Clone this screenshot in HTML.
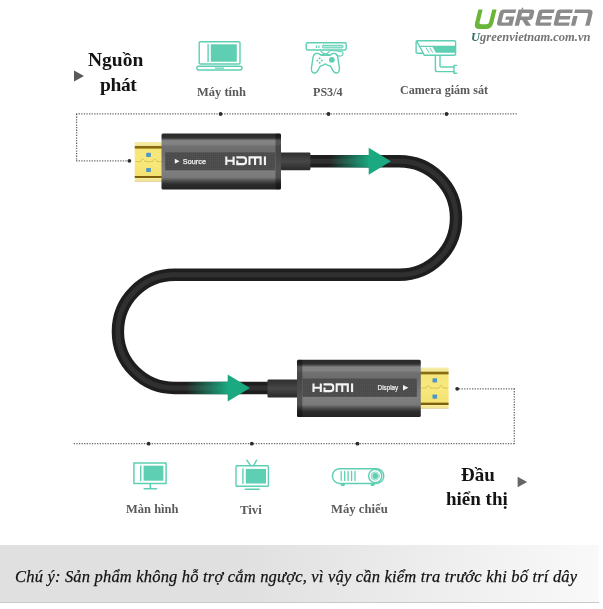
<!DOCTYPE html>
<html><head><meta charset="utf-8">
<style>
html,body{margin:0;padding:0;background:#fff;}
body{width:603px;height:609px;position:relative;overflow:hidden;font-family:"Liberation Serif",serif;}
.t{position:absolute;white-space:nowrap;line-height:1;will-change:transform;}
.lbl{font-weight:bold;color:#5a5a5a;font-size:12.5px;}
.big{font-weight:bold;color:#141414;}
svg{position:absolute;left:0;top:0;filter:blur(0.350px);}
.t{filter:blur(0.300px);}
#band{position:absolute;left:0;top:544.500px;width:598.800px;height:57.900px;background:linear-gradient(90deg,#e0e0e0 0%,#e0e0e0 40%,#f9f9f9 100%);border-bottom:1.300px solid #c9c9c9;}
</style></head><body>
<div id="band"></div>
<svg width="603" height="609" viewBox="0 0 603 609">
<defs>
<linearGradient id="body" x1="0" y1="0" x2="0" y2="1">
<stop offset="0" stop-color="#2a2a2a"/><stop offset="0.07" stop-color="#2f2f2f"/><stop offset="0.1" stop-color="#585858"/><stop offset="0.125" stop-color="#848484"/><stop offset="0.19" stop-color="#828282"/><stop offset="0.225" stop-color="#707070"/><stop offset="0.33" stop-color="#6c6c6c"/>
<stop offset="0.66" stop-color="#7e7e7e"/><stop offset="0.78" stop-color="#7a7a7a"/><stop offset="0.85" stop-color="#4a4a4a"/><stop offset="0.9" stop-color="#2e2e2e"/><stop offset="1" stop-color="#222"/>
</linearGradient>
<linearGradient id="gold" x1="0" y1="0" x2="0" y2="1">
<stop offset="0" stop-color="#f4eba6"/><stop offset="0.09" stop-color="#f3e89a"/><stop offset="0.108" stop-color="#86680e"/><stop offset="0.158" stop-color="#8e7014"/><stop offset="0.176" stop-color="#f6e67a"/>
<stop offset="0.5" stop-color="#f8e97c"/><stop offset="0.848" stop-color="#f4e272"/><stop offset="0.864" stop-color="#7a5c0c"/><stop offset="0.906" stop-color="#80620e"/><stop offset="0.922" stop-color="#f5eba4"/><stop offset="0.985" stop-color="#f1e38e"/><stop offset="1" stop-color="#cdb255"/>
</linearGradient>
<linearGradient id="cab" x1="0" y1="0" x2="0" y2="1">
<stop offset="0" stop-color="#2e2e2e"/><stop offset="0.5" stop-color="#474747"/><stop offset="1" stop-color="#2a2a2a"/>
</linearGradient>
<linearGradient id="ga1" x1="330" y1="0" x2="370" y2="0" gradientUnits="userSpaceOnUse">
<stop offset="0" stop-color="#1aa980" stop-opacity="0"/><stop offset="1" stop-color="#1aa980" stop-opacity="1"/>
</linearGradient>
<linearGradient id="ga2" x1="186" y1="0" x2="228" y2="0" gradientUnits="userSpaceOnUse">
<stop offset="0" stop-color="#1aa980" stop-opacity="0"/><stop offset="1" stop-color="#1aa980" stop-opacity="1"/>
</linearGradient>
<pattern id="mesh" width="2" height="2" patternUnits="userSpaceOnUse"><rect width="2" height="2" fill="#4b4b4b"/><rect width="1" height="1" fill="#545454"/></pattern>
</defs>

<!-- dotted guides -->
<g fill="none" stroke="#6a6a6a" stroke-width="1.3" stroke-dasharray="1.3 1.3">
<path d="M76 113.900 H517.500"/><path d="M76.600 114 V161"/><path d="M76 160.800 H128"/>
<path d="M73.700 443.700 H515"/><path d="M514.300 388.500 V444"/><path d="M459 388.800 H515"/>
</g>
<g fill="#2c2c2c">
<circle cx="129.4" cy="160.8" r="1.9"/><circle cx="220.600" cy="114" r="1.900"/><circle cx="328.5" cy="114" r="1.9"/><circle cx="446.5" cy="114" r="1.9"/>
<circle cx="457.200" cy="388.800" r="1.900"/><circle cx="148.600" cy="443.700" r="1.900"/><circle cx="251.800" cy="443.700" r="1.900"/><circle cx="357.500" cy="443.700" r="1.900"/>
</g>

<!-- cable -->
<path d="M300 161.3 H399.3 A56.75 56.75 0 0 1 399.3 274.8 H174.5 A56.6 56.6 0 0 0 174.5 388 H280" fill="none" stroke="#1e1e1e" stroke-width="12.4"/>
<path d="M300 161.3 H399.3 A56.75 56.75 0 0 1 399.3 274.8 H174.5 A56.6 56.6 0 0 0 174.5 388 H280" fill="none" stroke="#303030" stroke-width="5"/>
<!-- green arrows -->
<rect x="330" y="155.1" width="42" height="12.4" fill="url(#ga1)"/>
<path d="M368.7 147.8 L391 161.3 L368.7 174.8 Z" fill="#1aa980"/>
<rect x="186" y="381.8" width="44" height="12.4" fill="url(#ga2)"/>
<path d="M227.7 374.4 L250 388 L227.7 401.6 Z" fill="#1aa980"/>

<!-- connector 1 (source) -->
<rect x="280" y="152.4" width="30.4" height="17.8" rx="1" fill="url(#cab)"/>
<rect x="134.700" y="142" width="28" height="39.500" fill="url(#gold)"/>
<rect x="146.200" y="152.700" width="4.700" height="4.200" rx="0.700" fill="#4f97c6"/><rect x="146.200" y="167.900" width="4.700" height="4.200" rx="0.700" fill="#4f97c6"/>
<path d="M135.500 161.600 H140.700 C141.700 158.400 144 158.400 145 161.600 H152.600 C153.600 158.400 155.900 158.400 156.900 161.600 H161.300" fill="none" stroke="#c8ae48" stroke-width="0.65"/>
<rect x="161.500" y="133.600" width="119.500" height="56" rx="1.500" fill="url(#body)"/>
<rect x="275.500" y="133.600" width="5.500" height="56" rx="1" fill="#000" opacity="0.350"/>
<rect x="165.2" y="152.3" width="110" height="18" fill="url(#mesh)"/>
<path d="M174.800 158.700 L179.600 161.200 L174.800 163.700 Z" fill="#f2f2f2"/>
<text x="182.8" y="163.7" font-family="Liberation Sans, sans-serif" font-size="7.4" fill="#f2f2f2" stroke="#f2f2f2" stroke-width="0.25" textLength="23.2" lengthAdjust="spacingAndGlyphs">Source</text>
<g id="hdmi" fill="none" stroke="#f4f4f4" stroke-width="2.1">
<path d="M226.3 156.4 V165.1 M233.6 156.4 V165.1 M226.3 160.7 H233.6"/>
<path d="M236.3 157.4 H243.5 Q246 157.4 246 160 V161.6 Q246 164.1 243.5 164.1 H237.3 V160.5"/>
<path d="M249.5 165.1 V157.4 H260.6 V165.1 M255.05 157.4 V165.1"/>
<path d="M264.9 156.4 V165.1"/>
</g>

<!-- connector 2 (display) -->
<rect x="267.5" y="379.6" width="30.4" height="17.8" rx="1" fill="url(#cab)"/>
<rect x="419" y="367.600" width="29.600" height="40.900" fill="url(#gold)"/>
<rect x="432.500" y="378.300" width="4.600" height="4.200" rx="0.700" fill="#4f97c6"/><rect x="432.500" y="394.500" width="4.600" height="4.200" rx="0.700" fill="#4f97c6"/>
<path d="M421 388.100 H426.200 C427.200 384.900 429.400 384.900 430.400 388.100 H439 C440 384.900 442.200 384.900 443.200 388.100 H448" fill="none" stroke="#c8ae48" stroke-width="0.65"/>
<rect x="297" y="359.800" width="123.800" height="57.300" rx="1.500" fill="url(#body)"/>
<rect x="297" y="359.800" width="5.300" height="57.300" rx="1" fill="#000" opacity="0.350"/>
<rect x="302.500" y="378.500" width="114.400" height="18.400" fill="url(#mesh)"/>
<use href="#hdmi" x="87.200" y="227"/>
<text x="377.6" y="389.6" font-family="Liberation Sans, sans-serif" font-size="6.8" fill="#f2f2f2" stroke="#f2f2f2" stroke-width="0.2" textLength="20.6" lengthAdjust="spacingAndGlyphs">Display</text>
<path d="M403 385 L408.4 387.7 L403 390.4 Z" fill="#f2f2f2"/>

<!-- triangles -->
<path d="M74 70.6 L84 76 L74 81.4 Z" fill="#5a5a5a"/>
<path d="M517.6 476.8 L527.2 482 L517.6 487.2 Z" fill="#666"/>

<!-- icons -->
<g fill="none" stroke="#5fcfb3" stroke-width="1.4" stroke-linejoin="round" stroke-linecap="round">
<!-- laptop -->
<rect x="199.2" y="41.8" width="40.8" height="22.2" rx="1.2"/>
<path d="M208.1 44.6 V61.4"/>
<rect x="210.8" y="44.3" width="26" height="17.4" fill="#5fcfb3" stroke="none"/>
<rect x="196.8" y="66.2" width="45.2" height="3.8" rx="1.9"/>
<path d="M215.5 68.1 H223.5"/>
<!-- ps -->
<rect x="306.2" y="42.8" width="40" height="7.2" rx="1.5"/>
<rect x="322.200" y="45.300" width="21" height="2.600" rx="1.300" stroke-width="1" fill="#b9eadf"/>
<path d="M316.4 45.8 V47.4 M318.9 45.8 V47.4" stroke-width="1.2"/>
<path d="M320.700 50.300 Q321.500 54 329.300 54.600 M329.700 50.300 Q329 54 321.600 54.600 M331 50.500 Q338 50.600 342.600 52 Q344 54.600 341 56 Q338.500 56.600 336 54.600" stroke-width="1.200"/>
<path d="M316.5 53.4 q-2.6 0 -3.4 3.4 l-1.6 10.5 q-0.6 5.5 2.8 5.7 q2.6 0.2 4.6 -4.4 q1.2 -3.2 3.4 -3.2 q1.4 0 2 -1 q0.8 -1.1 2 0 q0.8 1 2 1 q2.4 0 3.6 3.2 q2 4.6 4.6 4.4 q3.400 -0.2 2.8 -5.700 l-1.600 -10.500 q-0.800 -3.400 -3.400 -3.400 q-2 0 -3.200 1 q-1 1 -2.400 1 h-6.200 q-1.400 0 -2.400 -1 q-1.200 -1 -3.200 -1 z"/>
<circle cx="331.8" cy="59.8" r="2.9" fill="#5fcfb3" stroke="none"/>
<g fill="#5fcfb3" stroke="none"><circle cx="319.600" cy="58.300" r="1"/><circle cx="319.600" cy="62.700" r="1"/><circle cx="317.400" cy="60.500" r="1"/><circle cx="321.800" cy="60.500" r="1"/></g>
<!-- camera -->
<path d="M416.100 52.200 V42.100 Q416.100 40.800 417.400 40.800 H454.300 Q455.600 40.800 455.600 42.100 V54 Q455.600 55.300 454.300 55.300 H424.400 L416.900 41.500 M416.100 52.200 Q416.100 53.200 417.100 53.200 H422.600"/>
<path d="M420.400 46.400 H455.400" stroke-width="1.200"/>
<path d="M432.600 47 H455 V52.800 H435.900 Z" fill="#5fcfb3" stroke="none"/>
<path d="M426.100 47.900 L428.900 52.300 M429.800 47.900 L432.600 52.300" stroke-width="1"/>
<path d="M435.400 55.600 V69.800 Q435.400 71.600 437.200 71.600 H453.800 M440 55.600 V65.400 Q440 67 441.600 67 H453.800 M456.700 65.400 H454 V73.200 H456.700"/>
<!-- monitor -->
<rect x="133.900" y="462.900" width="32.200" height="20.600" stroke-width="1.500"/>
<path d="M140.700 466 V480.600"/>
<rect x="143.600" y="465.700" width="19.800" height="15" fill="#5fcfb3" stroke="none"/>
<path d="M150.300 483.500 V488.700 M144.200 488.800 H156.600" stroke-width="1.500"/>
<!-- tv -->
<rect x="236" y="465.800" width="32.400" height="20.400" rx="0.800"/>
<path d="M242.900 469 V483.400"/>
<rect x="245.800" y="468.900" width="20.200" height="14.600" fill="#5fcfb3" stroke="none"/>
<path d="M246.800 460.200 L250.600 465.600 M256.600 460.200 L253.600 465.600 M245.200 489.200 H259.200"/>
<!-- projector -->
<rect x="332.400" y="468.700" width="51.400" height="14.800" rx="7.400"/>
<path d="M341.200 471.400 V480.400 M344.700 471.400 V480.400 M348.100 471.400 V480.400 M351.600 471.400 V480.400 M355 471.400 V480.400" stroke-width="1.300"/>
<circle cx="375.200" cy="476" r="6.600"/>
<circle cx="375.200" cy="476" r="4" stroke-width="0.800"/>
<circle cx="375.200" cy="476" r="2.900" fill="#5fcfb3" stroke="none"/>
<path d="M340.800 484 h4 v1.400 q-2 1.200 -4 0 z M370.600 484 h4 v1.400 q-2 1.200 -4 0 z" fill="#5fcfb3" stroke="none"/>
</g>

<!-- UGREEN logo -->
<g transform="translate(473.6 9.599999999999998) matrix(1 0 -0.247 1 4.7671 0)" fill="#6ab437"><path d="M0 0 H4.3 V12.400000000000002 Q4.3 14.600000000000001 6.5 14.600000000000001 H11.7 Q13.899999999999999 14.600000000000001 13.899999999999999 12.400000000000002 V0 H18.2 V13.3 Q18.2 19.3 12.2 19.3 H6 Q0 19.3 0 13.3 Z"/></g>
<g transform="translate(496.3 9.600000000000001) matrix(1 0 -0.247 1 4.001399999999999 0)" fill="#8b8b8b"><path d="M3.5 0 H15.9 V3.4 H5.3 Q4.3 3.4 4.3 4.4 V11.799999999999999 Q4.3 12.799999999999999 5.3 12.799999999999999 H11.600000000000001 V10.2 H7.4 V7 H15.9 V16.2 H3.5 Q0 16.2 0 12.7 V3.5 Q0 0 3.5 0 Z"/></g>
<g transform="translate(514.6 9.600000000000001) matrix(1 0 -0.247 1 4.001399999999999 0)" fill="#8b8b8b"><path fill-rule="evenodd" d="M0 0 H13.100000000000001 Q16.3 0 16.3 3.2 V7.2 Q16.3 10.4 13.100000000000001 10.4 H11.2 L16.6 16.2 H11.3 L6.2 10.4 H4.3 V16.2 H0 Z M4.3 3.4 V7 H11.4 Q12.0 7 12.0 6.4 V4.0 Q12.0 3.4 11.4 3.4 Z"/><path d="M2.2 0 L3.6 -2.4 L5 0 Z"/></g>
<g transform="translate(534.9 9.600000000000001) matrix(1 0 -0.247 1 4.001399999999999 0)" fill="#8b8b8b"><path d="M2.5 0 H15.7 V3.4 H4.3 V6.5 H14.899999999999999 V9.8 H4.3 V12.799999999999999 H15.7 V16.2 H2.5 Q0 16.2 0 13.7 V2.5 Q0 0 2.5 0 Z"/></g>
<g transform="translate(553.2 9.600000000000001) matrix(1 0 -0.247 1 4.001399999999999 0)" fill="#8b8b8b"><path d="M2.5 0 H15.7 V3.4 H4.3 V6.5 H14.899999999999999 V9.8 H4.3 V12.799999999999999 H15.7 V16.2 H2.5 Q0 16.2 0 13.7 V2.5 Q0 0 2.5 0 Z"/></g>
<g transform="translate(570.9 9.600000000000001) matrix(1 0 -0.247 1 4.001399999999999 0)" fill="#8b8b8b"><path d="M0.2 0 H14.100000000000001 Q18.6 0 18.6 4.5 V16.2 H14.3 V4.6 Q14.3 3.4 13.100000000000001 3.4 H0.2 Z M0 6.4 H4.3 V16.2 H0 Z"/></g>
</svg>

<!-- texts -->
<div class="t" style="left:471.4px;top:30.500px;font-size:12.500px;font-style:italic;font-weight:bold;color:#747474;"><span style="color:#2f6f63">U</span>greenvietnam.com.vn</div>
<div class="t big" id="t1" style="left:88px;top:50px;font-size:19.500px;">Nguồn</div>
<div class="t big" id="t2" style="left:99.800px;top:74.800px;font-size:19.500px;letter-spacing:-0.400px;">phát</div>
<div class="t lbl" id="l1" style="left:197px;top:86px;">Máy tính</div>
<div class="t lbl" id="l2" style="left:313px;top:86.400px;font-size:12.100px;">PS3/4</div>
<div class="t lbl" id="l3" style="left:400px;top:84.300px;font-size:12.100px;">Camera giám sát</div>
<div class="t lbl" id="l4" style="left:125.700px;top:503px;">Màn hình</div>
<div class="t lbl" id="l5" style="left:240.400px;top:504px;font-size:12.800px;">Tivi</div>
<div class="t lbl" id="l6" style="left:331px;top:503px;font-size:12.700px;">Máy chiếu</div>
<div class="t big" id="t3" style="left:460.800px;top:465px;font-size:19px;">Đầu</div>
<div class="t big" id="t4" style="left:446.300px;top:488.800px;font-size:19px;">hiển thị</div>
<div class="t" id="foot" style="left:15.400px;top:569.200px;font-size:16.500px;letter-spacing:0.190px;font-style:italic;color:#111;-webkit-text-stroke:0.250px #111;">Chú ý: Sản phẩm không hỗ trợ cắm ngược, vì vậy cần kiểm tra trước khi bố trí dây</div>
</body></html>
